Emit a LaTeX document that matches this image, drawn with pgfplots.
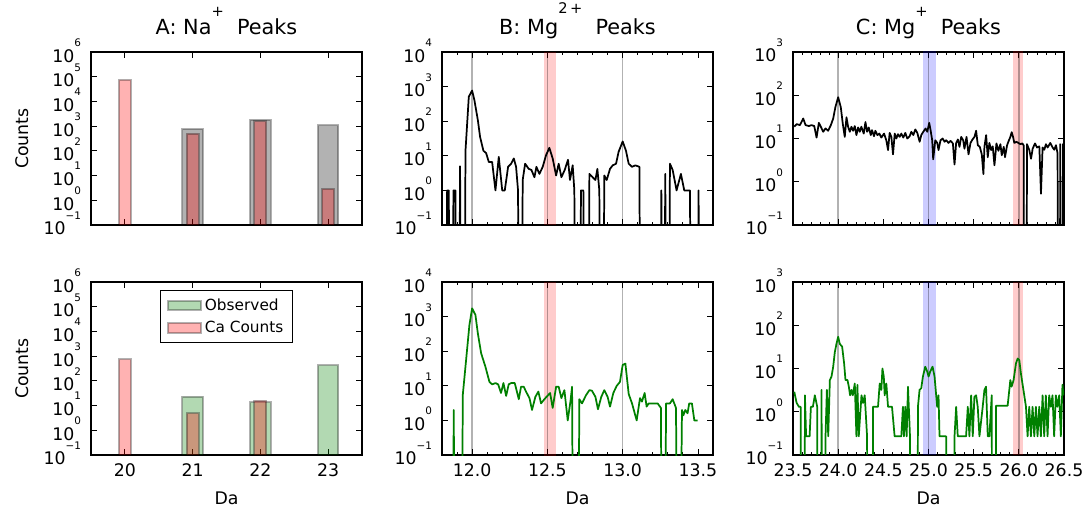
\documentclass[border=0pt]{standalone}
\usepackage{fontspec}
\setmainfont{DejaVu Sans}
\usepackage{pgfplots}
\pgfplotsset{compat=1.18}

\definecolor{mplgreen}{rgb}{0,0.5,0}
\newcommand{\tf}{\fontsize{13}{15.6}\selectfont}
% log tick label the way the old matplotlib drew it: exponent lifted well above "10"
\newcommand{\tlab}[1]{10\raisebox{11.7pt}{\fontsize{7.8}{8}\selectfont #1}}
\newcommand{\tsup}[2]{\raisebox{#1}{\fontsize{11}{12}\selectfont #2}}

\pgfplotsset{
  obs/.style={ybar, bar width=0.3, bar shift=0pt, fill opacity=0.3, draw=black, draw opacity=0.3, line width=1.5pt},
  ca/.style={ybar, bar width=0.18, bar shift=0pt, fill=red, fill opacity=0.3, draw=black, draw opacity=0.3, line width=1.5pt},
  guide/.style={black, opacity=0.3, line width=1.2pt, forget plot},
  band/.style={draw=none, fill=#1, fill opacity=0.2, forget plot},
  trace/.style={line width=1.3pt, line join=round},
}

% zero counts are written as 1e-9: they fall far below the axis and the trace drops to the bottom
\pgfplotstableread{
x y
11.822 1e-9
11.834 1
11.845 1
11.856 1e-9
11.865 1e-9
11.876 1
11.889 1
11.900 1e-9
11.910 1e-9
11.920 5
11.930 1e-9
11.945 1e-9
11.956 14
11.978 510
12.000 770
12.015 410
12.038 108
12.053 35
12.075 14
12.093 12
12.111 6.6
12.133 6.6
12.155 1
12.177 9.3
12.200 1
12.217 1
12.239 4.8
12.259 5.9
12.277 8.4
12.292 4.8
12.305 1
12.316 1e-9
12.325 1e-9
12.336 2
12.352 5.9
12.376 4.2
12.394 3.9
12.414 2.4
12.427 4.8
12.447 3.0
12.469 4.8
12.491 10.4
12.513 17
12.535 8.4
12.558 2.7
12.575 5.9
12.593 2.4
12.615 3.9
12.637 7.7
12.650 2
12.668 5.3
12.679 1
12.690 1e-9
12.712 1e-9
12.723 1
12.739 1
12.750 1e-9
12.768 1e-9
12.779 3
12.801 2.4
12.819 2
12.832 4.2
12.845 1
12.856 1e-9
12.867 1e-9
12.878 2.7
12.894 2
12.916 4.2
12.934 5.3
12.956 5.9
12.973 13
13.000 26
13.022 14
13.040 5.9
13.062 4.8
13.084 5.3
13.111 4.8
13.122 1e-9
13.246 1e-9
13.257 1
13.268 1e-9
13.272 1e-9
13.283 3
13.294 1e-9
13.303 1e-9
13.314 5.9
13.332 3.9
13.358 1
13.387 3
13.409 1
13.447 1
13.458 1e-9
13.493 1e-9
13.504 1
13.515 1e-9
13.600 1e-9
}\tabBtop

\pgfplotstableread{
x y
11.867 1e-9
11.878 2
11.889 1e-9
11.927 1e-9
11.938 5.4
11.982 570
12.000 1730
12.022 1120
12.038 330
12.060 87
12.088 36
12.115 13
12.133 11
12.155 12
12.173 11
12.192 6.2
12.208 12
12.226 5.1
12.243 11
12.259 12
12.283 12
12.292 8.5
12.310 4.1
12.325 9.4
12.343 9.4
12.358 6.8
12.381 4.4
12.398 2
12.420 4.8
12.440 6.8
12.458 3.1
12.480 4.1
12.518 6.2
12.535 2.3
12.558 9.4
12.575 9.4
12.593 4.4
12.613 7.5
12.635 1.0
12.653 3.5
12.664 9.4
12.675 1e-9
12.701 1e-9
12.712 4.1
12.730 3.1
12.757 5.4
12.779 7.5
12.796 7.2
12.819 4.8
12.836 2.1
12.858 4.8
12.878 7.5
12.900 4.8
12.916 2.5
12.938 6.2
12.960 9.9
12.982 13
13.000 40
13.018 44
13.040 5.8
13.062 3.1
13.093 1.0
13.115 4.4
13.128 3.5
13.146 6.2
13.159 2.5
13.173 3.1
13.195 3.1
13.232 3.1
13.254 2.3
13.265 1e-9
13.277 1e-9
13.288 3.1
13.314 3.1
13.332 4.1
13.354 2.3
13.372 1e-9
13.394 2
13.403 1.4
13.416 2
13.431 1.6
13.442 3.1
13.460 3.1
13.476 1
13.498 1
}\tabBbot

\pgfplotstableread{
x y
23.514 18.7
23.540 21.5
23.577 20.4
23.613 29
23.639 20.4
23.676 19.4
23.705 20.4
23.735 19.4
23.761 10.5
23.786 23
23.808 18.7
23.834 14.3
23.860 17.1
23.889 15.1
23.919 20.4
23.945 29
23.970 54
24.000 90
24.029 53
24.051 22
24.073 10.9
24.092 31
24.110 18.7
24.129 14.3
24.147 18.7
24.165 15.1
24.184 19.4
24.202 12
24.221 18
24.239 14.3
24.257 18.7
24.283 13
24.302 24
24.320 14.3
24.338 18
24.361 12
24.375 15.6
24.397 11.3
24.412 15.1
24.434 12
24.456 13
24.478 10.5
24.508 13
24.533 9.1
24.552 5.4
24.570 13.5
24.589 10.9
24.607 4.3
24.626 13
24.644 10
24.662 12.6
24.681 10.9
24.699 13
24.721 10.5
24.743 13.5
24.765 10
24.791 11.3
24.810 14.3
24.832 12
24.854 16.2
24.876 13.5
24.902 8.4
24.920 12
24.942 14.3
24.968 17.1
24.986 14.3
25.008 23
25.023 15.6
25.041 9.1
25.052 3.3
25.075 9.1
25.097 7.9
25.111 5.4
25.133 9.1
25.156 10
25.178 8.4
25.196 9.1
25.222 7.9
25.244 8.8
25.270 7.7
25.288 2.5
25.306 7.9
25.325 9.5
25.343 6.4
25.362 10.9
25.384 9.1
25.398 5.8
25.421 10.9
25.443 4.3
25.465 7.9
25.487 9.5
25.509 10.9
25.527 15.1
25.546 7.0
25.568 6.4
25.590 4.3
25.608 1.5
25.619 6.4
25.638 12
25.656 3.7
25.674 7.9
25.693 5.4
25.711 6.6
25.730 2.4
25.752 7.7
25.774 5.2
25.796 7.4
25.811 4.1
25.833 6.4
25.847 3.7
25.870 7.0
25.884 8.4
25.906 10.9
25.921 14
25.936 10.9
25.950 7.9
25.973 8.4
25.995 7.9
26.017 7.4
26.039 7.7
26.054 6.9
26.060 1e-9
26.082 1e-9
26.090 7.4
26.116 5.4
26.135 3.4
26.153 5.8
26.179 7.7
26.201 6.2
26.227 6.6
26.245 0.53
26.263 6.2
26.282 5.5
26.300 7.4
26.319 6.2
26.348 7.9
26.374 6.2
26.392 5.5
26.411 7.0
26.429 4.5
26.436 1e-9
26.452 1e-9
26.458 7.4
26.466 1e-9
26.480 1e-9
26.488 7.4
26.500 3
}\tabCtop

\pgfplotstableread{
x y
23.514 2.9
23.540 1.6
23.566 1.3
23.585 1.3
23.596 1e-9
23.625 1e-9
23.632 2.4
23.645 0.27
23.684 0.27
23.698 1.3
23.720 1.3
23.742 2.4
23.768 1.3
23.778 1e-9
23.808 1e-9
23.816 3.2
23.827 1e-9
23.850 1e-9
23.860 0.27
23.875 3.2
23.890 0.27
23.908 5.4
23.926 6.5
23.945 11
23.963 24
23.982 38
24.000 54
24.018 37
24.044 32
24.066 13
24.081 5.4
24.103 5.4
24.118 3.8
24.132 2.4
24.147 3.2
24.162 2.4
24.184 4.5
24.202 0.27
24.213 4.2
24.228 0.27
24.258 2.4
24.276 1.6
24.294 2.4
24.320 0.27
24.331 1e-9
24.375 1e-9
24.386 1.3
24.441 1.3
24.460 4.5
24.478 3.2
24.490 10
24.505 6.5
24.515 2.4
24.533 4.5
24.552 1.3
24.596 1.3
24.625 0.27
24.699 0.27
24.717 1.3
24.728 0.27
24.743 1.3
24.758 0.27
24.773 3.8
24.795 0.27
24.806 1e-9
24.875 1e-9
24.883 1.3
24.901 3.2
24.920 3.5
24.938 6.5
24.964 11
24.986 8.5
25.001 6.5
25.019 8.5
25.045 11
25.067 6.5
25.085 2.4
25.096 1.3
25.111 2.4
25.122 0.27
25.196 0.27
25.207 1e-9
25.280 1e-9
25.288 0.27
25.306 1.3
25.324 0.27
25.416 0.27
25.435 1.3
25.453 0.27
25.472 2.4
25.490 0.27
25.508 2.2
25.527 2.4
25.545 1.3
25.564 0.27
25.600 1.3
25.619 3.2
25.637 3.8
25.656 0.27
25.674 0.27
25.700 2.4
25.711 1e-9
25.740 1e-9
25.748 1.38
25.876 1.38
25.906 5.4
25.920 3.8
25.942 5.4
25.968 13
25.987 17
26.005 15.7
26.023 7.7
26.042 4.2
26.060 2.4
26.079 1.3
26.097 0.27
26.115 1.3
26.134 0.27
26.152 1.3
26.171 0.27
26.189 1.3
26.207 0.27
26.226 1.3
26.244 0.27
26.263 2.4
26.281 0.27
26.299 2.4
26.318 0.27
26.336 2.4
26.355 1.3
26.373 2.4
26.391 0.27
26.410 2.4
26.428 1.3
26.447 2.4
26.465 0.27
26.483 4.2
26.495 2.4
}\tabCbot

\begin{document}
\begin{tikzpicture}
\path[use as bounding box] (0,0) rectangle (814.5pt,380.25pt);

% ---- A: Na+ ----
\begin{axis}[at={(68.25pt,211.5pt)}, anchor=south west, font=\tf,
  scale only axis, width=203.25pt, height=129.75pt,
  ymode=log, log basis y=10, log origin y=infty, enlargelimits=false,
  tick align=inside, major tick length=4.5pt, minor tick length=2.3pt,
  tick style={black, line width=0.6pt}, axis line style={line width=1pt},
  tick label style={font=\tf},
  yticklabel style={anchor=base east, yshift=-7.5pt, xshift=-4pt},
  title style={font=\fontsize{15.6}{18}\selectfont, at={(0.5,1)}, anchor=base, yshift=7pt},
  xmin=19.5, xmax=23.5, ymin=0.1, ymax=1e6, xtick={20,21,22,23}, xticklabels={},
  ytick={0.1,1,10,100,1000,10000,100000,1000000},
  yticklabels={\tlab{−1},\tlab{0},\tlab{1},\tlab{2},\tlab{3},\tlab{4},\tlab{5},\tlab{6}},
  extra description/.code={
    \node[font=\tf, rotate=90, anchor=base] at (axis description cs:-0.232,0.5) {Counts};},
  title={A: Na\tsup{13.5pt}{+}\ \ Peaks}]
\addplot[obs, fill=black] coordinates {(21,760) (22,1780) (23,1070)};
\addplot[ca] coordinates {(20,74000) (21,500) (22,1550) (23,2.9)};
\end{axis}

\begin{axis}[at={(68.25pt,39pt)}, anchor=south west, font=\tf,
  scale only axis, width=203.25pt, height=129.75pt,
  ymode=log, log basis y=10, log origin y=infty, enlargelimits=false,
  tick align=inside, major tick length=4.5pt, minor tick length=2.3pt,
  tick style={black, line width=0.6pt}, axis line style={line width=1pt},
  tick label style={font=\tf},
  yticklabel style={anchor=base east, yshift=-7.5pt, xshift=-4pt},
  xticklabel style={yshift=-3pt},
  xmin=19.5, xmax=23.5, ymin=0.1, ymax=1e6, xtick={20,21,22,23},
  xticklabels={20,21,22,23},
  ytick={0.1,1,10,100,1000,10000,100000,1000000},
  yticklabels={\tlab{−1},\tlab{0},\tlab{1},\tlab{2},\tlab{3},\tlab{4},\tlab{5},\tlab{6}},
  extra description/.code={
    \node[font=\tf, rotate=90, anchor=base] at (axis description cs:-0.232,0.5) {Counts};
    \node[font=\tf, anchor=base] at (axis description cs:0.5,-0.289) {Da};},
  legend style={at={(0.5,0.955)}, anchor=north, draw=black, line width=0.9pt,
    font=\fontsize{11.5}{13}\selectfont, row sep=3pt, inner xsep=5pt, inner ysep=4pt},
  legend cell align=left,
  legend image code/.code={\draw[#1] (0pt,-3.5pt) rectangle (25pt,3.5pt);}]
\addplot[obs, fill=mplgreen] coordinates {(21,23) (22,13.5) (23,425)};
\addlegendentry{Observed}
\addplot[ca] coordinates {(20,740) (21,4.8) (22,16)};
\addlegendentry{Ca Counts}
\end{axis}

% ---- B: Mg2+ ----
\begin{axis}[at={(331.5pt,211.5pt)}, anchor=south west, font=\tf,
  scale only axis, width=203.25pt, height=129.75pt,
  ymode=log, log basis y=10, enlargelimits=false,
  tick align=inside, major tick length=4.5pt, minor tick length=2.3pt,
  tick style={black, line width=0.6pt}, axis line style={line width=1pt},
  tick label style={font=\tf},
  yticklabel style={anchor=base east, yshift=-7.5pt, xshift=-4pt},
  title style={font=\fontsize{15.6}{18}\selectfont, at={(0.5,1)}, anchor=base, yshift=7pt},
  xmin=11.8, xmax=13.6, ymin=0.1, ymax=1e4,
  xtick={12,12.5,13,13.5}, xticklabels={},
  minor xtick={11.9,12.1,12.2,12.3,12.4,12.6,12.7,12.8,12.9,13.1,13.2,13.3,13.4},
  ytick={0.1,1,10,100,1000,10000},
  yticklabels={\tlab{−1},\tlab{0},\tlab{1},\tlab{2},\tlab{3},\tlab{4}},
  title={B: Mg\tsup{16pt}{2\,+}\ \ Peaks}]
\addplot[band=red] coordinates {(12.48,1e-5) (12.56,1e-5) (12.56,1e8) (12.48,1e8)} -- cycle;
\addplot[guide] coordinates {(12.0,1e-5) (12.0,1e8)};
\addplot[guide] coordinates {(12.5,1e-5) (12.5,1e8)};
\addplot[guide] coordinates {(13.0,1e-5) (13.0,1e8)};
\addplot[trace, black] table {\tabBtop};
\end{axis}

\begin{axis}[at={(331.5pt,39pt)}, anchor=south west, font=\tf,
  scale only axis, width=203.25pt, height=129.75pt,
  ymode=log, log basis y=10, enlargelimits=false,
  tick align=inside, major tick length=4.5pt, minor tick length=2.3pt,
  tick style={black, line width=0.6pt}, axis line style={line width=1pt},
  tick label style={font=\tf},
  yticklabel style={anchor=base east, yshift=-7.5pt, xshift=-4pt},
  xticklabel style={yshift=-3pt},
  xmin=11.8, xmax=13.6, ymin=0.1, ymax=1e4,
  xtick={12,12.5,13,13.5}, xticklabels={12.0,12.5,13.0,13.5},
  minor xtick={11.9,12.1,12.2,12.3,12.4,12.6,12.7,12.8,12.9,13.1,13.2,13.3,13.4},
  ytick={0.1,1,10,100,1000,10000},
  yticklabels={\tlab{−1},\tlab{0},\tlab{1},\tlab{2},\tlab{3},\tlab{4}},
  extra description/.code={
    \node[font=\tf, anchor=base] at (axis description cs:0.5,-0.289) {Da};}]
\addplot[band=red] coordinates {(12.48,1e-5) (12.56,1e-5) (12.56,1e8) (12.48,1e8)} -- cycle;
\addplot[guide] coordinates {(12.0,1e-5) (12.0,1e8)};
\addplot[guide] coordinates {(12.5,1e-5) (12.5,1e8)};
\addplot[guide] coordinates {(13.0,1e-5) (13.0,1e8)};
\addplot[trace, mplgreen] table {\tabBbot};
\end{axis}

% ---- C: Mg+ ----
\begin{axis}[at={(594.75pt,211.5pt)}, anchor=south west, font=\tf,
  scale only axis, width=203.25pt, height=129.75pt,
  ymode=log, log basis y=10, enlargelimits=false,
  tick align=inside, major tick length=4.5pt, minor tick length=2.3pt,
  tick style={black, line width=0.6pt}, axis line style={line width=1pt},
  tick label style={font=\tf},
  yticklabel style={anchor=base east, yshift=-7.5pt, xshift=-4pt},
  title style={font=\fontsize{15.6}{18}\selectfont, at={(0.5,1)}, anchor=base, yshift=7pt},
  xmin=23.5, xmax=26.5, ymin=0.1, ymax=1e3,
  xtick={23.5,24,24.5,25,25.5,26,26.5}, xticklabels={},
  minor xtick={23.6,23.7,23.8,23.9,24.1,24.2,24.3,24.4,24.6,24.7,24.8,24.9,25.1,25.2,25.3,25.4,25.6,25.7,25.8,25.9,26.1,26.2,26.3,26.4},
  ytick={0.1,1,10,100,1000},
  yticklabels={\tlab{−1},\tlab{0},\tlab{1},\tlab{2},\tlab{3}},
  title={C: Mg\tsup{13.5pt}{+}\ \ Peaks}]
\addplot[band=blue] coordinates {(24.94,1e-5) (25.08,1e-5) (25.08,1e8) (24.94,1e8)} -- cycle;
\addplot[band=red] coordinates {(25.93,1e-5) (26.05,1e-5) (26.05,1e8) (25.93,1e8)} -- cycle;
\addplot[guide] coordinates {(24.0,1e-5) (24.0,1e8)};
\addplot[guide] coordinates {(25.0,1e-5) (25.0,1e8)};
\addplot[guide] coordinates {(26.0,1e-5) (26.0,1e8)};
\addplot[trace, black] table {\tabCtop};
\end{axis}

\begin{axis}[at={(594.75pt,39pt)}, anchor=south west, font=\tf,
  scale only axis, width=203.25pt, height=129.75pt,
  ymode=log, log basis y=10, enlargelimits=false,
  tick align=inside, major tick length=4.5pt, minor tick length=2.3pt,
  tick style={black, line width=0.6pt}, axis line style={line width=1pt},
  tick label style={font=\tf},
  yticklabel style={anchor=base east, yshift=-7.5pt, xshift=-4pt},
  xticklabel style={yshift=-3pt},
  xmin=23.5, xmax=26.5, ymin=0.1, ymax=1e3,
  xtick={23.5,24,24.5,25,25.5,26,26.5},
  xticklabels={23.5,24.0,24.5,25.0,25.5,26.0,26.5},
  minor xtick={23.6,23.7,23.8,23.9,24.1,24.2,24.3,24.4,24.6,24.7,24.8,24.9,25.1,25.2,25.3,25.4,25.6,25.7,25.8,25.9,26.1,26.2,26.3,26.4},
  ytick={0.1,1,10,100,1000},
  yticklabels={\tlab{−1},\tlab{0},\tlab{1},\tlab{2},\tlab{3}},
  extra description/.code={
    \node[font=\tf, anchor=base] at (axis description cs:0.5,-0.289) {Da};}]
\addplot[band=blue] coordinates {(24.94,1e-5) (25.08,1e-5) (25.08,1e8) (24.94,1e8)} -- cycle;
\addplot[band=red] coordinates {(25.93,1e-5) (26.05,1e-5) (26.05,1e8) (25.93,1e8)} -- cycle;
\addplot[guide] coordinates {(24.0,1e-5) (24.0,1e8)};
\addplot[guide] coordinates {(25.0,1e-5) (25.0,1e8)};
\addplot[guide] coordinates {(26.0,1e-5) (26.0,1e8)};
\addplot[trace, mplgreen] table {\tabCbot};
\end{axis}
\end{tikzpicture}
\end{document}
